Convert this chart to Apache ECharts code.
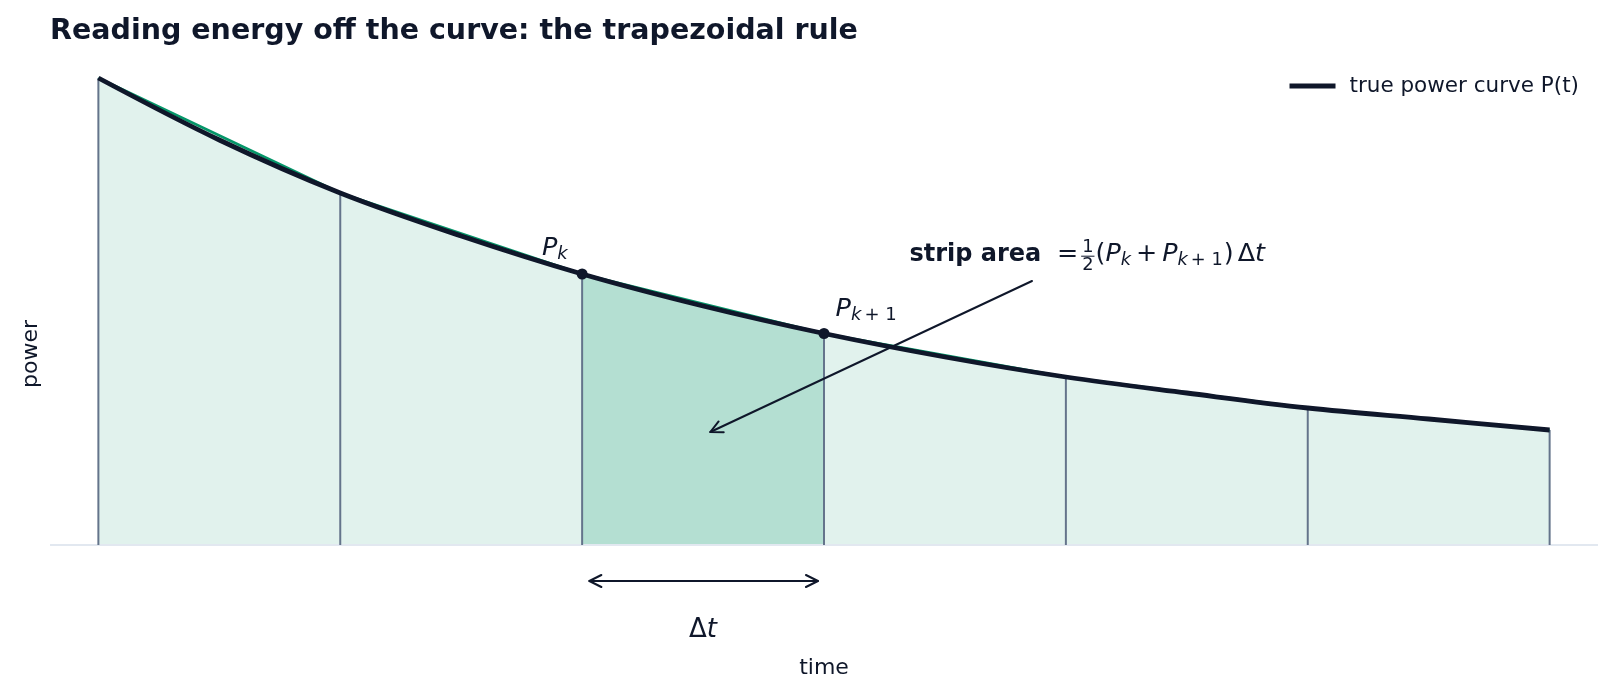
<!DOCTYPE html>
<html><head><meta charset="utf-8">
<script src="https://cdn.jsdelivr.net/npm/echarts@6/dist/echarts.min.js"></script>
<style>html,body{margin:0;padding:0;background:#fff}#c{width:1614px;height:696px}</style>
</head><body><div id="c"></div>
<script>
// ---- data ----
const nodeTimes  = [0, 1, 2, 3, 4, 5, 6];
const nodePower  = [4.67, 3.52, 2.71, 2.115, 1.68, 1.37, 1.15];
const curveTimes = [0, 0.5, 1, 1.5, 2, 2.5, 3, 3.5, 4, 4.5, 5, 5.5, 6];
const curvePower = [4.67, 4.05, 3.52, 3.09, 2.71, 2.39, 2.115, 1.88, 1.68, 1.52, 1.37, 1.26, 1.15];
const highlightStrip = 2;           // strip k .. k+1
const markedNodes = [2, 3];
const xRange = [-0.2, 6.2];
const yRange = [-1.05, 4.87];
const areaArrow = [3.86, 2.64, 2.53, 1.13];   // from -> to
const dtArrow = [2.03, -0.36, 2.975, -0.36];
const stripLabelAnchor = [3.353, 2.823];
const pkLabelAnchor = [1.834, 2.883];
const pk1LabelAnchor = [3.048, 2.273];
const dtLabelAnchor = [2.5, -0.94];
const titleText = 'Reading energy off the curve: the trapezoidal rule';
const legendText = 'true power curve P(t)';

const INK = '#0f172a';
const GREEN = '#059669';
const FF = '"DejaVu Sans"';

const chart = echarts.init(document.getElementById('c'));

const strips = nodeTimes.slice(0, -1).map((t, i) => [t, nodeTimes[i + 1], nodePower[i], nodePower[i + 1], i === highlightStrip ? 1 : 0]);

function arrowHead(tip, from, len, half) {
  const dx = tip[0] - from[0], dy = tip[1] - from[1];
  const L = Math.hypot(dx, dy); const ux = dx / L, uy = dy / L;
  const bx = tip[0] - ux * len, by = tip[1] - uy * len;
  return [[bx - uy * half, by + ux * half], tip, [bx + uy * half, by - ux * half]];
}

const option = {
  backgroundColor: '#fff',
  animation: false,
  title: {
    text: titleText, left: 50, top: 17, padding: 0,
    textStyle: { fontFamily: FF, fontSize: 28.5, fontWeight: 'bold', color: INK }
  },
  legend: {
    data: [{ name: legendText, icon: 'rect' }],
    right: 35, top: 75, padding: 0, itemWidth: 46, itemHeight: 5,
    textStyle: { fontFamily: FF, fontSize: 21.5, color: INK, padding: [0, 0, 0, 9] }
  },
  grid: { left: 50, right: 16, top: 58, bottom: 46 },
  xAxis: {
    type: 'value', min: xRange[0], max: xRange[1],
    axisLine: { show: false }, axisTick: { show: false }, axisLabel: { show: false }, splitLine: { show: false },
    name: 'time', nameLocation: 'middle', nameGap: 7,
    nameTextStyle: { fontFamily: FF, fontSize: 22, color: INK }
  },
  yAxis: {
    type: 'value', min: yRange[0], max: yRange[1],
    axisLine: { show: false }, axisTick: { show: false }, axisLabel: { show: false }, splitLine: { show: false },
    name: 'power', nameLocation: 'middle', nameGap: 8,
    nameTextStyle: { fontFamily: FF, fontSize: 22, color: INK }
  },
  series: [
    {
      type: 'custom', z: 1, silent: true, data: strips,
      renderItem: (params, api) => {
        const x0 = api.value(0), x1 = api.value(1), y0 = api.value(2), y1 = api.value(3), h = api.value(4);
        const pts = [api.coord([x0, 0]), api.coord([x1, 0]), api.coord([x1, y1]), api.coord([x0, y0])];
        return { type: 'polygon', shape: { points: pts }, style: { fill: h ? 'rgba(5,150,105,0.30)' : 'rgba(5,150,105,0.12)', stroke: null } };
      }
    },
    {
      type: 'line', z: 2, silent: true, symbol: 'none', data: [[xRange[0], 0], [xRange[1], 0]],
      lineStyle: { color: '#e2e8f0', width: 2.2 }
    },
    {
      type: 'custom', z: 3, silent: true, data: nodeTimes.map((t, i) => [t, nodePower[i]]),
      renderItem: (params, api) => {
        const a = api.coord([api.value(0), 0]), b = api.coord([api.value(0), api.value(1)]);
        return { type: 'line', shape: { x1: a[0], y1: a[1], x2: b[0], y2: b[1] }, style: { stroke: '#64748b', lineWidth: 2 } };
      }
    },
    {
      type: 'line', z: 4, silent: true, symbol: 'none', data: nodeTimes.map((t, i) => [t, nodePower[i]]),
      lineStyle: { color: GREEN, width: 2.5 }
    },
    {
      name: legendText, type: 'line', z: 5, silent: true, symbol: 'none', smooth: 0.35,
      data: curveTimes.map((t, i) => [t, curvePower[i]]),
      itemStyle: { color: INK }, lineStyle: { color: INK, width: 4.8 }
    },
    {
      type: 'scatter', z: 6, silent: true, symbolSize: 11,
      data: markedNodes.map(i => [nodeTimes[i], nodePower[i]]), itemStyle: { color: INK, opacity: 1 }
    },
    {
      type: 'custom', z: 7, silent: true, data: [areaArrow.concat([0]), dtArrow.concat([1])],
      renderItem: (params, api) => {
        const p = api.coord([api.value(0), api.value(1)]), q = api.coord([api.value(2), api.value(3)]);
        const both = api.value(4);
        const st = { stroke: INK, lineWidth: 2, fill: null, lineCap: 'round', lineJoin: 'round' };
        const ch = [{ type: 'line', shape: { x1: p[0], y1: p[1], x2: q[0], y2: q[1] }, style: st },
                    { type: 'polyline', shape: { points: arrowHead(q, p, 12, 6) }, style: st }];
        if (both) ch.push({ type: 'polyline', shape: { points: arrowHead(p, q, 12, 6) }, style: st });
        return { type: 'group', children: ch };
      }
    }
  ]
};
chart.setOption(option);

// ---- math-style annotations, anchored at data coordinates ----
const mctx = document.createElement('canvas').getContext('2d');
function fontStr(p) { return (p.italic ? 'italic ' : '') + (p.bold ? 'bold ' : '') + p.size + 'px ' + FF; }
function measure(p) { mctx.font = fontStr(p); return mctx.measureText(p.text).width; }
function mathEls(pieces, anchor, align) {
  const px = chart.convertToPixel({ gridIndex: 0 }, anchor);
  let total = 0;
  pieces.forEach(p => {
    if (p.frac) { p.w = Math.max(measure(p.num), measure(p.den)) + 2; }
    else p.w = measure(p);
    total += (p.pre || 0) + p.w + (p.post || 0);
  });
  let x = px[0] - (align === 'center' ? total / 2 : 0);
  const base = px[1];
  const els = [];
  const txt = (p, xx, bl) => ({
    type: 'text', x: xx, y: bl - 0.346 * p.size, silent: true,
    style: { text: p.text, font: fontStr(p), fill: INK, align: 'left', verticalAlign: 'middle' }
  });
  pieces.forEach(p => {
    x += (p.pre || 0);
    if (p.frac) {
      const bar = base - p.axis;
      const nw = measure(p.num), dw = measure(p.den);
      els.push(txt(p.num, x + (p.w - nw) / 2, bar - 2.5));
      els.push(txt(p.den, x + (p.w - dw) / 2, bar + 2.5 + 0.729 * p.den.size));
      els.push({ type: 'line', silent: true, shape: { x1: x, y1: bar, x2: x + p.w, y2: bar }, style: { stroke: INK, lineWidth: 1 } });
    } else {
      els.push(txt(p, x, base + (p.dy || 0)));
    }
    x += p.w + (p.post || 0);
  });
  return els;
}
const F = 25.4, S = 17.8;
const graphics = [].concat(
  mathEls([{ text: 'strip area', size: 24, bold: true }], stripLabelAnchor, 'left'),
  mathEls([
    { text: '=', size: F, pre: 147.5 },
    { frac: true, num: { text: '1', size: S }, den: { text: '2', size: S }, axis: 6.5, pre: 3 },
    { text: '(', size: F, pre: 1 },
    { text: 'P', size: F, italic: true },
    { text: 'k', size: S, italic: true, dy: 4 },
    { text: '+', size: F, pre: 5, post: 5 },
    { text: 'P', size: F, italic: true },
    { text: 'k', size: S, italic: true, dy: 4 },
    { text: '+ 1', size: S, dy: 4, pre: 3 },
    { text: ')', size: F, pre: 1 },
    { text: 'Δ', size: F, pre: 4 },
    { text: 't', size: F, italic: true }
  ], stripLabelAnchor, 'left'),
  mathEls([{ text: 'P', size: 25.5, italic: true }, { text: 'k', size: 18, italic: true, dy: 3.5 }], pkLabelAnchor, 'left'),
  mathEls([{ text: 'P', size: 25.5, italic: true }, { text: 'k', size: 18, italic: true, dy: 3.5 }, { text: '+ 1', size: 18, dy: 3.5, pre: 3 }], pk1LabelAnchor, 'left'),
  mathEls([{ text: 'Δ', size: 26 }, { text: 't', size: 26, italic: true }], dtLabelAnchor, 'center')
);
chart.setOption({ graphic: { elements: graphics } });
</script></body></html>
